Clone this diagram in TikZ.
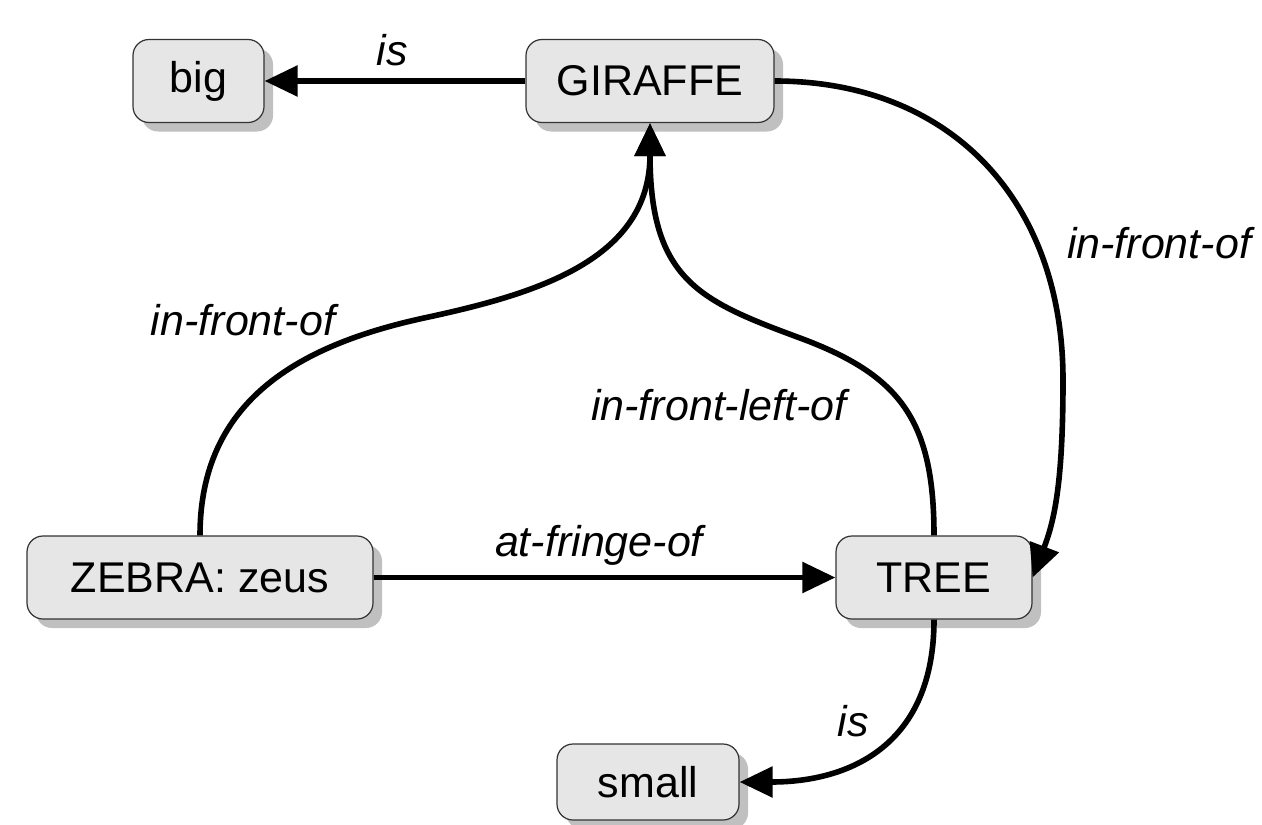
\documentclass[tikz,border=0pt]{standalone}
\usepackage{fontspec}
\setmainfont{Liberation Sans}
\usetikzlibrary{arrows.meta,shadows}
\definecolor{boxfill}{HTML}{E6E6E6}
\definecolor{boxline}{HTML}{333333}
\definecolor{shade}{HTML}{C0C0C0}
\begin{document}
\begin{tikzpicture}[x=0.5pt,y=-0.5pt,
  concept/.style={draw=boxline, line width=0.6pt, fill=boxfill, rounded corners=8pt,
    minimum height=41.5pt, inner sep=0pt, font=\fontsize{21.5}{26}\selectfont,
    drop shadow={shadow xshift=4.5pt, shadow yshift=-4.5pt, fill=shade, opacity=1}},
  rel/.style={line width=2.8pt, -{Triangle[length=16.5pt,width=15pt]}},
  lbl/.style={font=\fontsize{21.5}{26}\selectfont\itshape, inner sep=0pt}]
  \fill[white] (0,0) rectangle (1262,824);
  \useasboundingbox (0,0) rectangle (1262,824);

  % concepts
  \node[concept, minimum width=65.5pt] (big) at (198.5,81) {big};
  \node[concept, minimum width=124pt] (giraffe) at (650,81) {GIRAFFE};
  \node[concept, minimum width=173pt] (zebra) at (200,577.5) {ZEBRA: zeus};
  \node[concept, minimum width=98pt] (tree) at (934,577.5) {TREE};
  \node[concept, minimum width=91pt, minimum height=38pt] (small) at (648,782) {small};

  % relations
  \draw[rel] (giraffe.west) -- (big.east);
  \draw[rel] (zebra.east) -- (tree.west);
  \draw[rel] (giraffe.east) .. controls (950,81) and (1063,200) .. (1063,380)
             .. controls (1063,480) and (1055,519) .. (tree.east);
  \draw[rel] (zebra.north) .. controls (200,400) and (300,345) .. (424,318)
             .. controls (536,294) and (650,260) .. (giraffe.south);
  \draw[rel] (tree.north) .. controls (934,420) and (900,375) .. (800,338)
             .. controls (700,301) and (650,280) .. (giraffe.south);
  \draw[rel] (tree.south) .. controls (934,745) and (850,782) .. (small.east);

  % relation labels
  \node[lbl] (lisbig) at (392,50) {is};
  \node[lbl] (lfront1) at (1159,243) {in-front-of};
  \node[lbl] (lfront2) at (243,320) {in-front-of};
  \node[lbl] (lfrontleft) at (719,405) {in-front-left-of};
  \node[lbl] (lfringe) at (599,545) {at-fringe-of};
  \node[lbl] (lissmall) at (853,721) {is};
\end{tikzpicture}
\end{document}
